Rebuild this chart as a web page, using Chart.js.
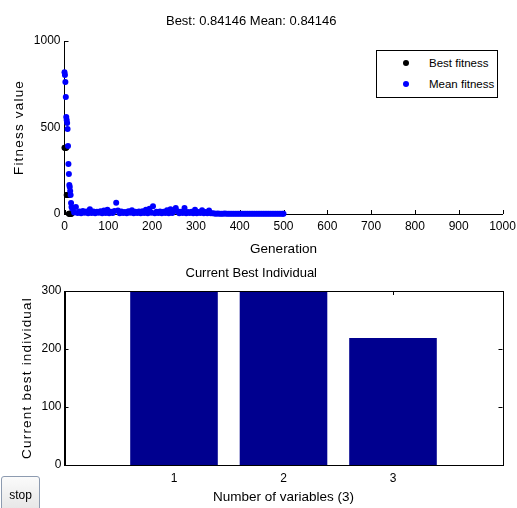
<!DOCTYPE html>
<html>
<head>
<meta charset="utf-8">
<script src="https://cdn.jsdelivr.net/npm/chart.js@4.4.0/dist/chart.umd.min.js"></script>
<style>
  body { margin: 0; background: #fff; width: 517px; height: 508px; overflow: hidden; position: relative;
         font-family: "Liberation Sans", Arial, sans-serif; }
  canvas { position: absolute; left: 0; }
  #fitness { top: 0; }
  #indiv { top: 260px; }
  #legend { position: absolute; left: 376px; top: 50px; width: 120px; height: 46px; border: 1px solid #000;
            background: #fff; font-size: 11.5px; color: #000; }
  #legend .row { position: absolute; left: 0; width: 100%; height: 14px; }
  #legend .dot { position: absolute; left: 26px; top: 4px; width: 6px; height: 6px; border-radius: 50%; }
  #legend .txt { position: absolute; left: 52px; top: 0; line-height: 14px; white-space: nowrap; }
  #stop { position: absolute; left: 1px; top: 476px; width: 39px; height: 38px; box-sizing: border-box;
          border: 1px solid #8d9bb0; border-radius: 3px; background: linear-gradient(#fbfbfb, #e4e4e4);
          font: 12px "Liberation Sans", Arial, sans-serif; color: #000; padding: 0; }
</style>
</head>
<body>
<canvas id="fitness" width="517" height="260"></canvas>
<canvas id="indiv" width="517" height="248"></canvas>
<div id="legend"></div>
<button id="stop">stop</button>
<script>
// ---- datos ----
// generaciones 0..16 (caída inicial)
const meanGenEarly = [0, 1, 2, 3, 4, 5, 6, 7, 8, 9, 10, 11, 12, 13, 14, 15, 16];
const meanEarly = [820, 803, 763, 676, 561, 543, 526, 491, 393, 289, 231, 168, 156, 133, 110, 63, 40];
const bestGen = [0, 1, 2, 3, 4, 5, 6, 7, 8, 9, 10, 11, 12, 13, 14, 15, 16];
const bestEarly = [383, 383, 383, 383, 383, 110, 110, 110, 110, 110,
                   0.84146, 0.84146, 0.84146, 0.84146, 0.84146, 0.84146, 0.84146];

// generaciones 18..338 cada 4
const meanMid = [30, 8, 40, 6, 15, 5, 18, 7, 14, 5,
                 28, 6, 15, 5, 13, 7, 16, 5, 20, 6,
                 24, 5, 13, 6, 18, 65, 20, 5, 14, 6,
                 12, 5, 16, 7, 22, 5, 13, 6, 15, 5,
                 16, 6, 25, 5, 30, 7, 45, 5, 13, 6,
                 15, 5, 13, 6, 22, 5, 28, 6, 18, 35,
                 16, 5, 13, 6, 35, 5, 12, 6, 13, 5,
                 25, 5, 12, 6, 22, 5, 12, 4, 20, 4,
                 5];
// generaciones 342..498 cada 4, y la 500
const meanLate = [3, 1, 2.5, 1, 2, 1, 2.2, 0.9, 1.8, 1,
                  2, 0.9, 1.5, 1, 1.8, 0.9, 1.6, 0.9, 1.4, 1,
                  1.5, 0.9, 1.3, 0.9, 1.2, 0.9, 1.3, 0.86, 1.1, 0.85,
                  1.2, 0.85, 1, 0.85, 1.1, 0.85, 0.9, 0.85, 0.9, 0.85,
                  0.84146];

const genTicks = [0, 100, 200, 300, 400, 500, 600, 700, 800, 900, 1000];
const fitnessTicks = [0, 500, 1000];

const variables = [1, 2, 3];
const bestIndividual = [330, 315, 219];
const indivTicks = [0, 100, 200, 300];

function steps(start, end, step) { // solo posiciones de generación
  const out = [];
  for (let g = start; g <= end; g += step) out.push(g);
  return out;
}
const meanGenMid = steps(18, 338, 4);
const meanGenLate = steps(342, 498, 4).concat([500]);

const toPts = (xs, ys) => xs.map((x, i) => ({ x: x, y: ys[i] }));
const plain = v => String(v); // sin separador de miles

Chart.defaults.font.family = '"Liberation Sans", Arial, sans-serif';
Chart.defaults.color = '#000';

// marcas de eje hacia adentro (estilo MATLAB) + caja opcional
const insideTicks = {
  id: 'insideTicks',
  beforeDatasetsDraw(chart, args, opts) {
    const { ctx, chartArea: a, scales } = chart;
    const len = 4;
    ctx.save();
    ctx.strokeStyle = '#000';
    ctx.lineWidth = 1;
    ctx.beginPath();
    scales.x.ticks.forEach(t => {
      const px = Math.round(scales.x.getPixelForValue(t.value)) + 0.5;
      ctx.moveTo(px, a.bottom); ctx.lineTo(px, a.bottom - len);
      if (opts.mirror) { ctx.moveTo(px, a.top); ctx.lineTo(px, a.top + len); }
    });
    scales.y.ticks.forEach(t => {
      const py = Math.round(scales.y.getPixelForValue(t.value)) + 0.5;
      ctx.moveTo(a.left, py); ctx.lineTo(a.left + len, py);
      if (opts.mirror) { ctx.moveTo(a.right, py); ctx.lineTo(a.right - len, py); }
    });
    ctx.stroke();
    ctx.restore();
  },
  afterDatasetsDraw(chart, args, opts) {
    if (!opts.box) return;
    const { ctx, chartArea: a } = chart;
    ctx.save();
    ctx.strokeStyle = '#000';
    ctx.lineWidth = 1;
    ctx.strokeRect(Math.round(a.left) + 0.5, Math.round(a.top) + 0.5,
                   Math.round(a.right - a.left), Math.round(a.bottom - a.top));
    ctx.restore();
  },
  beforeDraw(chart, args, opts) {
    // texto del eje y con letras separadas
    const s = chart.scales.y;
    if (s && !s._spaced) {
      const orig = s.drawTitle;
      s.drawTitle = function () {
        this.ctx.save();
        this.ctx.letterSpacing = opts.spacing || '1.2px';
        orig.call(this);
        this.ctx.restore();
      };
      s._spaced = true;
    }
  }
};

const noGrid = { display: false, drawTicks: false };

const fitnessChart = new Chart(document.getElementById('fitness'), {
  type: 'scatter',
  data: {
    datasets: [{
      label: 'Best fitness',
      data: toPts(bestGen, bestEarly),
      backgroundColor: '#000',
      pointRadius: 3,
      pointBorderWidth: 0,
      order: 2,
      clip: false
    }, {
      label: 'Mean fitness',
      data: toPts(meanGenEarly, meanEarly)
        .concat(toPts(meanGenMid, meanMid))
        .concat(toPts(meanGenLate, meanLate)),
      backgroundColor: '#0000ff',
      pointRadius: 3,
      pointBorderWidth: 0,
      order: 1,
      clip: false
    }]
  },
  options: {
    responsive: false,
    animation: false,
    layout: { padding: { left: 0, right: 14.5, top: 0, bottom: 0 } },
    scales: {
      x: {
        type: 'linear', min: 0, max: 1000,
        afterBuildTicks: s => { s.ticks = genTicks.map(v => ({ value: v })); },
        afterFit: s => { s.height = 46; },
        // la separación va en tickLength para que no agrande el margen derecho
        ticks: { color: '#000', font: { size: 12 }, padding: 0, maxRotation: 0, autoSkip: false, callback: plain },
        grid: { display: false, drawTicks: true, tickLength: 5 },
        border: { display: true, color: '#000', width: 1 },
        title: { display: true, text: 'Generation', color: '#000', font: { size: 13.5 },
                 padding: { top: 0, bottom: 3 } }
      },
      y: {
        type: 'linear', min: 0, max: 1000,
        afterBuildTicks: s => { s.ticks = fitnessTicks.map(v => ({ value: v })); },
        afterFit: s => { s.width = 64.5; },
        ticks: { color: '#000', font: { size: 12 }, padding: 4, callback: plain },
        grid: noGrid,
        border: { display: true, color: '#000', width: 1 },
        title: { display: true, text: 'Fitness value', color: '#000', font: { size: 13.5 },
                 padding: { top: 11, bottom: 0 } }
      }
    },
    plugins: {
      legend: { display: false },
      tooltip: { enabled: false },
      title: { display: true, text: 'Best: 0.84146 Mean: 0.84146', color: '#000',
               font: { size: 13, weight: 'normal' }, padding: { top: 14, bottom: 11.4 } },
      insideTicks: { mirror: false, box: false }
    }
  },
  plugins: [insideTicks]
});

// leyenda en HTML, a partir de los datasets
const legendEl = document.getElementById('legend');
fitnessChart.data.datasets.forEach((ds, i) => {
  const row = document.createElement('div');
  row.className = 'row';
  row.style.top = (5 + i * 21) + 'px';
  row.innerHTML = '<span class="dot" style="background:' + ds.backgroundColor + '"></span>' +
                  '<span class="txt">' + ds.label + '</span>';
  legendEl.appendChild(row);
});

new Chart(document.getElementById('indiv'), {
  type: 'bar',
  data: {
    datasets: [{
      label: 'Current best individual',
      data: toPts(variables, bestIndividual),
      backgroundColor: '#00008f',
      borderWidth: 0,
      barPercentage: 0.8,
      categoryPercentage: 1
    }]
  },
  options: {
    responsive: false,
    animation: false,
    layout: { padding: { left: 0, right: 14.5, top: 0, bottom: 0 } },
    scales: {
      x: {
        type: 'linear', min: 0, max: 4, offset: false,
        afterBuildTicks: s => { s.ticks = variables.map(v => ({ value: v })); },
        afterFit: s => { s.height = 43; },
        ticks: { color: '#000', font: { size: 12 }, padding: 6, maxRotation: 0, autoSkip: false, callback: plain },
        grid: noGrid,
        border: { display: true, color: '#000', width: 1 },
        title: { display: true, text: 'Number of variables (3)', color: '#000', font: { size: 13.5 },
                 padding: { top: 0, bottom: 3 } }
      },
      y: {
        type: 'linear', min: 0, max: 300,
        afterBuildTicks: s => { s.ticks = indivTicks.map(v => ({ value: v })); },
        afterFit: s => { s.width = 64.5; },
        ticks: { color: '#000', font: { size: 12 }, padding: 3, callback: plain },
        grid: noGrid,
        border: { display: true, color: '#000', width: 1 },
        title: { display: true, text: 'Current best individual', color: '#000', font: { size: 13.5 },
                 padding: { top: 19, bottom: 0 } }
      }
    },
    plugins: {
      legend: { display: false },
      tooltip: { enabled: false },
      title: { display: true, text: 'Current Best Individual', color: '#000',
               font: { size: 13, weight: 'normal' }, padding: { top: 5.2, bottom: 10.2 } },
      insideTicks: { mirror: true, box: true }
    }
  },
  plugins: [insideTicks]
});
</script>
</body>
</html>
